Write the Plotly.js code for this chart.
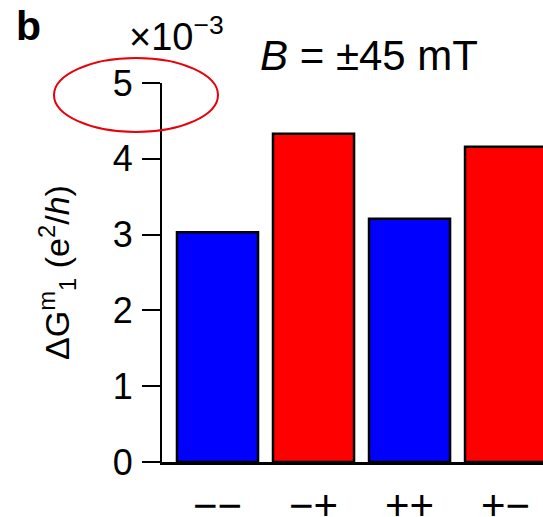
<!DOCTYPE html>
<html>
<head>
<meta charset="utf-8">
<script src="https://cdn.plot.ly/plotly-3.0.1.min.js"></script>
<style>html,body{margin:0;padding:0;background:#fff;}#chart{width:543px;height:517px;}</style>
</head>
<body>
<div id="chart"></div>
<script>
const categories = ['\u2212\u2212', '\u2212+', '++', '+\u2212'];
const values = [3.03, 4.33, 3.21, 4.16];
const barColors = ['#0000ff', '#ff0000', '#0000ff', '#ff0000'];
const yTicks = [0, 1, 2, 3, 4, 5];

const FONT = 'Liberation Sans, Arial, Helvetica, sans-serif';
const L = 162, R = 0, T = 83, B = 55;
const W = 543, H = 517;
const pw = W - L - R, ph = H - T - B;
const px = x => (x - L) / pw;
const py = y => (H - B - y) / ph;

const data = [{
  type: 'bar',
  x: [0, 1, 2, 3],
  y: values,
  marker: {color: barColors, line: {color: '#000', width: 2.5}},
  hoverinfo: 'none'
}];

const layout = {
  width: W, height: H,
  margin: {l: L, r: R, t: T, b: B, pad: 0},
  paper_bgcolor: '#fff', plot_bgcolor: '#fff',
  showlegend: false,
  bargap: 0.156,
  font: {family: FONT, color: '#000', size: 36},
  xaxis: {
    range: [-0.578, 3.39],
    tickmode: 'array', tickvals: [0, 1, 2, 3], ticktext: categories,
    showgrid: false, zeroline: false,
    showline: true, linecolor: '#000', linewidth: 3,
    ticks: '', ticklabelstandoff: 5,
    tickfont: {family: FONT, size: 42, color: '#000'},
    fixedrange: true
  },
  yaxis: {
    range: [0, 5],
    tickmode: 'array', tickvals: yTicks, ticktext: yTicks.map(String),
    showgrid: false, zeroline: false,
    showline: true, linecolor: '#000', linewidth: 2,
    ticks: 'outside', ticklen: 18, tickwidth: 2, tickcolor: '#000',
    ticklabelstandoff: 2,
    tickfont: {family: FONT, size: 36, color: '#000'},
    title: {text: '\u0394G<sup>m</sup><sub>1</sub> (e<sup>2</sup>/<i>h</i>)', font: {family: FONT, size: 34, color: '#000'}, standoff: 33},
    fixedrange: true
  },
  annotations: [
    {text: '<b>b</b>', xref: 'paper', yref: 'paper', x: px(14), y: py(26), xanchor: 'left', yanchor: 'middle', showarrow: false, font: {family: FONT, size: 41, color: '#000'}},
    {text: '\u00d710<sup>\u22123</sup>', xref: 'paper', yref: 'paper', x: px(127), y: py(34), xanchor: 'left', yanchor: 'middle', showarrow: false, font: {family: FONT, size: 38, color: '#000'}},
    {text: '<i>B</i> = \u00b145 mT', xref: 'paper', yref: 'paper', x: px(258), y: py(55), xanchor: 'left', yanchor: 'middle', showarrow: false, font: {family: FONT, size: 42, color: '#000'}}
  ],
  shapes: [
    {type: 'circle', xref: 'paper', yref: 'paper', x0: px(54), x1: px(218), y0: py(132), y1: py(58), line: {color: '#e8000b', width: 2}, fillcolor: 'rgba(0,0,0,0)'}
  ]
};

Plotly.newPlot('chart', data, layout, {displayModeBar: false, staticPlot: true});
</script>
</body>
</html>
